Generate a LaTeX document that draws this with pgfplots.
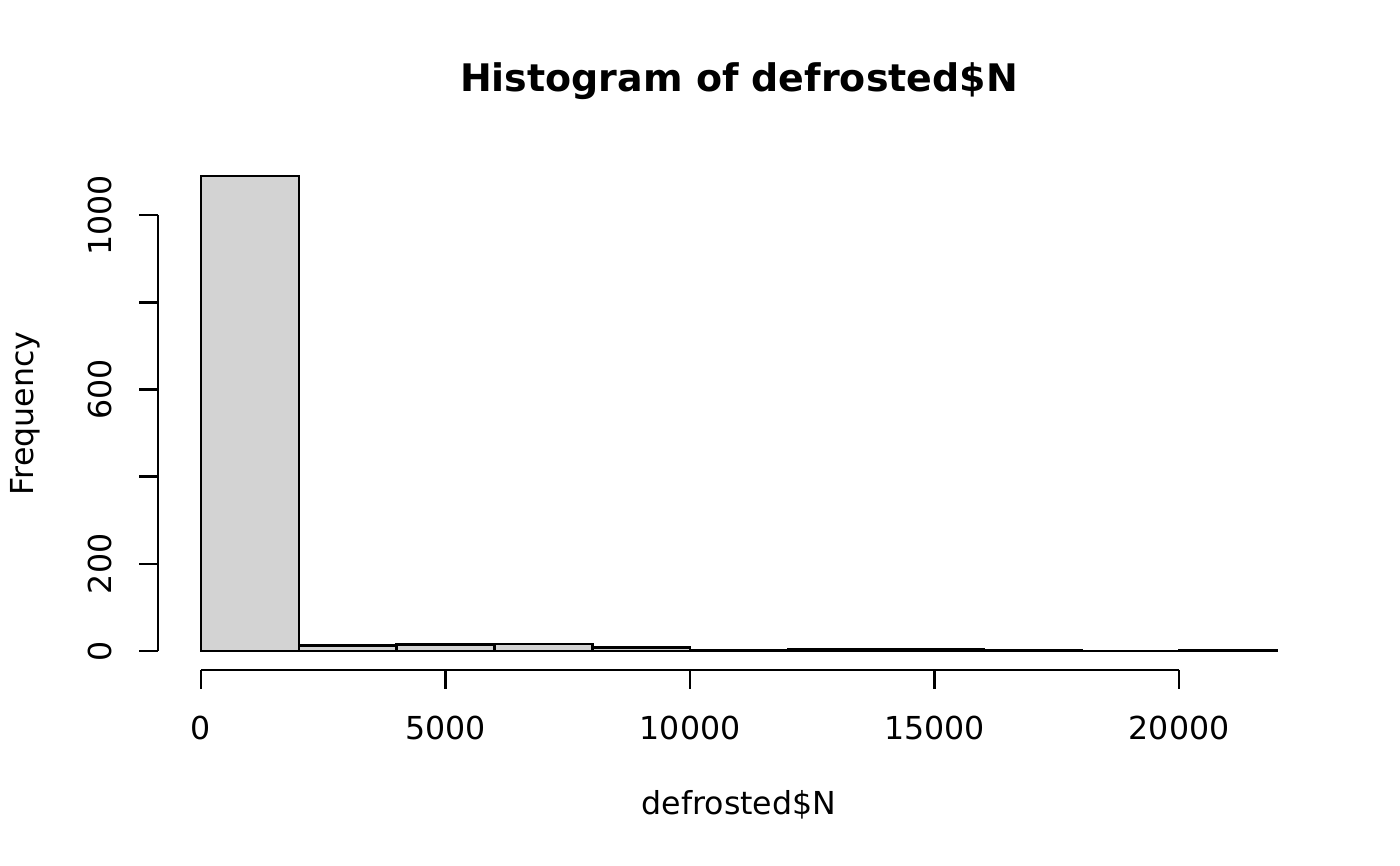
\documentclass[border=0pt]{standalone}
\usepackage{fontspec}
\setmainfont{DejaVu Sans}
\usepackage{pgfplots}
\pgfplotsset{compat=1.18}
\definecolor{histfill}{RGB}{211,211,211}
\begin{document}
\begin{tikzpicture}[x=1mm,y=1mm]
\useasboundingbox (-15.8,-19.6) rectangle (124.2,67.0);
\begin{axis}[
  at={(0,0)}, anchor=south west,
  scale only axis, width=116.2mm, height=51.3mm,
  xmin=-880, xmax=22880, ymin=-43.6, ymax=1133.6,
  axis lines=none, clip=false,
]
\addplot[ybar interval, fill=histfill, draw=black, line width=0.7pt]
  coordinates {(0,1090) (2000,13) (4000,15) (6000,16) (8000,8) (10000,1)
               (12000,3) (14000,3) (16000,1) (18000,0) (20000,2) (22000,2)};
% x axis
\draw[line width=0.7pt] (axis cs:0,-43.6) -- (axis cs:20000,-43.6);
\pgfplotsinvokeforeach{0,5000,10000,15000,20000}{
  \draw[line width=0.7pt] (axis cs:#1,-43.6) -- ([yshift=-1.9mm]axis cs:#1,-43.6);
  \node[font=\fontsize{9}{10}\selectfont, anchor=center] at ([yshift=-5.8mm]axis cs:#1,-43.6) {#1};
}
% y axis
\draw[line width=0.7pt] (axis cs:-880,0) -- (axis cs:-880,1000);
\pgfplotsinvokeforeach{0,200,400,600,800,1000}{
  \draw[line width=0.7pt] (axis cs:-880,#1) -- ([xshift=-1.9mm]axis cs:-880,#1);
}
\pgfplotsinvokeforeach{0,200,600,1000}{
  \node[font=\fontsize{9}{10}\selectfont, anchor=center, rotate=90] at ([xshift=-5.8mm]axis cs:-880,#1) {#1};
}
\end{axis}
\node[font=\fontsize{10.8}{12}\selectfont\bfseries, anchor=center] at (58.1,58.9) {Histogram of defrosted\$N};
\node[font=\fontsize{9}{10}\selectfont, anchor=center] at (58.1,-13.5) {defrosted\$N};
\node[font=\fontsize{9}{10}\selectfont, anchor=center, rotate=90] at (-13.3,25.65) {Frequency};
\end{tikzpicture}
\end{document}
